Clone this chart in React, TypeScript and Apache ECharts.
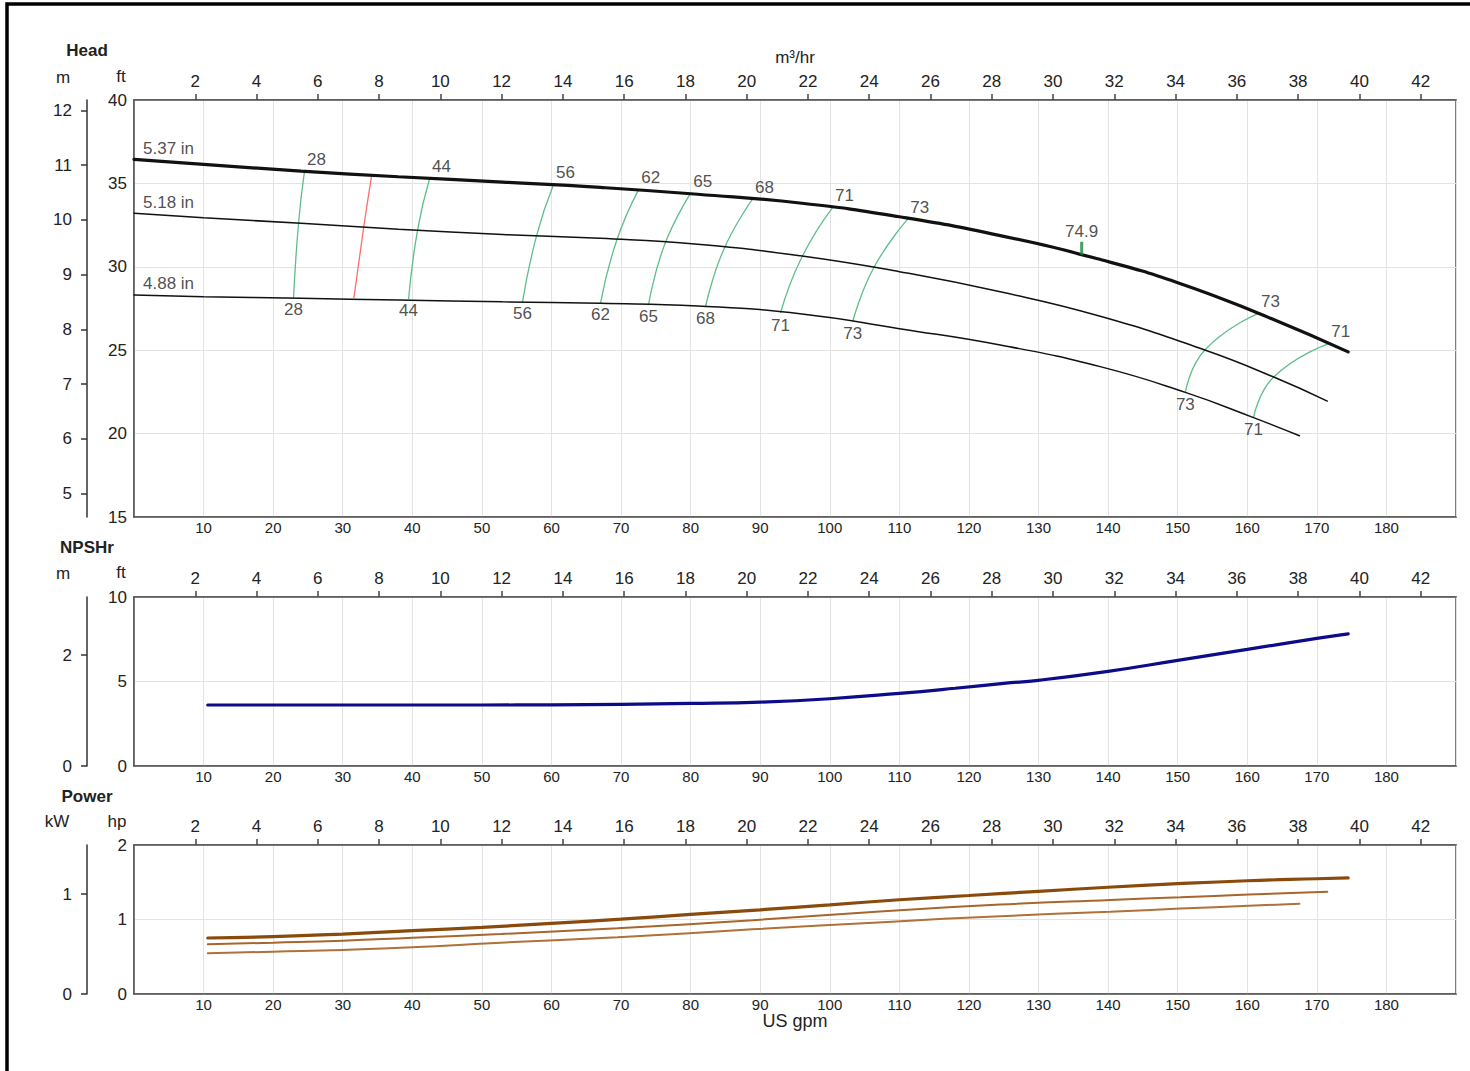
import React, { useEffect, useRef } from "react";
import * as echarts from "echarts";

const FONT = "'Liberation Sans', Arial, Helvetica, sans-serif";
const GPM_TO_M3H = 0.2271247;
const M_TO_FT = 3.28084;
const KW_TO_HP = 1.34102;

// ---- axes / ticks ----
const gpmRange = [0, 190];
const gpmTicks = [10, 20, 30, 40, 50, 60, 70, 80, 90, 100, 110, 120, 130, 140, 150, 160, 170, 180];
const m3hTicks = [2, 4, 6, 8, 10, 12, 14, 16, 18, 20, 22, 24, 26, 28, 30, 32, 34, 36, 38, 40, 42];
const headFtRange = [15, 40];
const headMTicks = [5, 6, 7, 8, 9, 10, 11, 12];
const npshFtRange = [0, 10];
const npshMTicks = [0, 2];
const powerHpRange = [0, 2];
const powerKwTicks = [0, 1];

// ---- head curves (US gpm, ft) ----
const trimNames = ["5.37 in", "5.18 in", "4.88 in"];
const head537 = [[0, 36.44], [10, 36.14], [24, 35.74], [38, 35.4], [53, 35.08], [67, 34.76], [81, 34.35], [96, 33.81], [110, 33.0], [124.5, 31.87], [139, 30.42], [150, 29.05], [161.6, 27.21], [174.5, 24.9]];
const head518 = [[0, 33.21], [10, 32.94], [24, 32.61], [38, 32.25], [53, 31.94], [67, 31.71], [81, 31.35], [96, 30.65], [110, 29.71], [124.5, 28.5], [139, 27.02], [153.9, 25.01], [163.8, 23.39], [171.5, 21.95]];
const head488 = [[0, 28.31], [10, 28.21], [24, 28.11], [38, 28.01], [53, 27.9], [67, 27.81], [81, 27.65], [96, 27.17], [110, 26.29], [124.5, 25.31], [139, 24.0], [151.1, 22.47], [160.9, 20.96], [167.5, 19.87]];

// ---- iso-efficiency lines (top, middle, bottom) ----
const isoLabels = ["28", "", "44", "56", "62", "65", "68", "71", "73", "73", "71"];
const isoKinds = ["eff", "min", "eff", "eff", "eff", "eff", "eff", "eff", "eff", "eff", "eff"];
const isoPoints = [
  [[24.5, 35.72], [23.65, 32.63], [22.93, 28.13]],
  [[34.14, 35.44], [33.0, 32.33], [31.6, 28.13]],
  [[42.48, 35.28], [40.76, 32.21], [39.46, 28.07]],
  [[60.3, 34.93], [57.85, 31.85], [55.84, 27.89]],
  [[72.53, 34.63], [69.35, 31.55], [67.05, 27.83]],
  [[80.0, 34.4], [76.24, 31.31], [73.95, 27.71]],
  [[88.9, 34.06], [84.73, 31.01], [82.14, 27.59]],
  [[100.4, 33.55], [95.93, 30.53], [92.92, 27.23]],
  [[111.2, 32.86], [106.3, 29.93], [103.3, 26.72]],
  [[161.6, 27.21], [153.9, 25.01], [151.1, 22.47]],
  [[171.7, 25.4], [163.8, 23.39], [160.9, 20.96]],
];

// ---- best efficiency point ----
const bepFlow = 136.2;
const bepHead = 30.72;
const bepEff = 74.9;

// ---- NPSHr (US gpm, ft) ----
const npshCurve = [[10.6, 3.61], [20, 3.61], [30, 3.61], [40, 3.61], [50, 3.61], [60, 3.62], [70, 3.65], [80, 3.7], [90, 3.78], [100, 3.98], [110, 4.3], [118, 4.6], [125, 4.89], [130, 5.07], [140, 5.6], [150, 6.25], [160, 6.9], [170, 7.55], [174.5, 7.82]];

// ---- Power (US gpm, hp) ----
const power537 = [[10.6, 0.752], [20, 0.77], [30, 0.805], [40, 0.85], [50, 0.895], [60, 0.948], [70, 1.005], [80, 1.068], [90, 1.13], [100, 1.197], [110, 1.265], [120, 1.322], [130, 1.378], [140, 1.433], [150, 1.481], [160, 1.52], [170, 1.547], [174.5, 1.558]];
const power518 = [[10.6, 0.667], [20, 0.689], [30, 0.716], [40, 0.756], [52.7, 0.805], [69.5, 0.882], [88.9, 0.99], [108.3, 1.115], [124.5, 1.2], [140.3, 1.262], [150.4, 1.298], [160.2, 1.335], [171.5, 1.373]];
const power488 = [[10.6, 0.546], [20, 0.568], [30, 0.591], [40, 0.626], [52.7, 0.689], [69.5, 0.761], [88.9, 0.868], [108.3, 0.968], [124.5, 1.045], [140.3, 1.105], [150.4, 1.146], [160.2, 1.184], [167.5, 1.212]];

const TXT = "#222";
const smallLabel = { color: TXT, fontSize: 15, fontFamily: FONT };
const bigLabel = { color: TXT, fontSize: 17, fontFamily: FONT };

function xAxesFor(g: number) {
  return [
    {
      type: "value", gridIndex: g, position: "bottom", min: gpmRange[0], max: gpmRange[1], interval: 10,
      axisLine: { show: true, onZero: false, lineStyle: { color: "#555", width: 1.5 } },
      axisTick: { show: false },
      axisLabel: { ...smallLabel, margin: 3, customValues: gpmTicks },
      splitLine: { show: true, lineStyle: { color: "#e3e3e3", width: 1 } },
    },
    {
      type: "value", gridIndex: g, position: "top", min: gpmRange[0] * GPM_TO_M3H, max: gpmRange[1] * GPM_TO_M3H,
      axisLine: { show: true, onZero: false, lineStyle: { color: "#555", width: 1.5 } },
      axisTick: { show: true, length: 6, lineStyle: { color: "#444", width: 1.5 }, customValues: m3hTicks },
      axisLabel: { ...bigLabel, margin: 10, customValues: m3hTicks },
      splitLine: { show: false },
    },
  ];
}

function imperialAxis(g: number, range: number[], interval: number) {
  return {
    type: "value", gridIndex: g, position: "left", min: range[0], max: range[1], interval,
    axisLine: { show: true, onZero: false, lineStyle: { color: "#555", width: 1.5 } },
    axisTick: { show: false },
    axisLabel: { ...bigLabel, margin: 7, showMinLabel: true, showMaxLabel: true },
    splitLine: { show: true, lineStyle: { color: "#e3e3e3", width: 1 } },
  };
}

function metricAxis(g: number, min: number, max: number, ticks: number[]) {
  return {
    type: "value", gridIndex: g, position: "left", offset: 47, min, max,
    axisLine: { show: true, onZero: false, lineStyle: { color: "#333", width: 1.5 } },
    axisTick: { show: true, length: 6, lineStyle: { color: "#333", width: 1.5 }, customValues: ticks },
    axisLabel: { ...bigLabel, margin: 15, customValues: ticks },
    splitLine: { show: false },
  };
}

function lineSeries(xi: number, yi: number, data: number[][], color: string, width: number, z = 3) {
  return {
    type: "line", xAxisIndex: xi, yAxisIndex: yi, data, smooth: 0.5,
    symbol: "none", showSymbol: false, silent: true, z,
    lineStyle: { color, width, cap: "round" },
  };
}

function textG(text: string, x: number, y: number, size = 17, bold = false) {
  return {
    type: "text", x, y, silent: true,
    style: { text, fill: TXT, fontSize: size, fontFamily: FONT, fontWeight: bold ? "bold" : "normal", align: "center", verticalAlign: "middle" },
  };
}

export default function App() {
  const ref = useRef<HTMLDivElement>(null);
  useEffect(() => {
    if (!ref.current) return;
    const chart = echarts.init(ref.current, undefined, { renderer: "svg" });

    const isoSeries = isoPoints.map((pts, i) => ({
      type: "line", xAxisIndex: 0, yAxisIndex: 0, data: pts, smooth: true,
      symbol: "none", showSymbol: false, silent: true, z: 2,
      lineStyle: { color: isoKinds[i] === "min" ? "#ff6b6b" : "#5fbd8d", width: 1.3 },
    }));

    const labelScatter = (data: any[], offset: number[], align = "center") => ({
      type: "scatter", xAxisIndex: 0, yAxisIndex: 0, data, symbol: "circle", symbolSize: 1,
      itemStyle: { color: "rgba(0,0,0,0)" }, silent: true, clip: false, z: 6,
      emphasis: { disabled: true },
      label: { show: true, position: "inside", align, verticalAlign: "middle", offset, formatter: (p: any) => p.value[2], ...bigLabel },
    });

    const effIdx = isoLabels.map((l, i) => i).filter((i) => isoLabels[i] !== "");
    const topLabels = effIdx.map((i) => [isoPoints[i][0][0], isoPoints[i][0][1], isoLabels[i]]);
    const bottomLabels = effIdx.map((i) => [isoPoints[i][2][0], isoPoints[i][2][1], isoLabels[i]]);
    const trimLabelData = [head537, head518, head488].map((c, i) => [c[0][0], c[0][1], trimNames[i]]);

    const option: any = {
      animation: false,
      backgroundColor: "#fff",
      textStyle: { fontFamily: FONT },
      grid: [
        { left: 134, top: 100, width: 1322, height: 417, show: true, borderColor: "#555", borderWidth: 1.5 },
        { left: 134, top: 597, width: 1322, height: 169, show: true, borderColor: "#555", borderWidth: 1.5 },
        { left: 134, top: 845, width: 1322, height: 149, show: true, borderColor: "#555", borderWidth: 1.5 },
      ],
      xAxis: [...xAxesFor(0), ...xAxesFor(1), ...xAxesFor(2)],
      yAxis: [
        imperialAxis(0, headFtRange, 5),
        metricAxis(0, headFtRange[0] / M_TO_FT, headFtRange[1] / M_TO_FT, headMTicks),
        imperialAxis(1, npshFtRange, 5),
        metricAxis(1, npshFtRange[0] / M_TO_FT, npshFtRange[1] / M_TO_FT, npshMTicks),
        imperialAxis(2, powerHpRange, 1),
        metricAxis(2, powerHpRange[0] / KW_TO_HP, powerHpRange[1] / KW_TO_HP, powerKwTicks),
      ],
      series: [
        ...isoSeries,
        lineSeries(0, 0, head537, "#111", 3.2, 4),
        lineSeries(0, 0, head518, "#111", 1.5, 4),
        lineSeries(0, 0, head488, "#111", 1.5, 4),
        labelScatter(topLabels, [12, -12]),
        labelScatter(bottomLabels, [0, 12]),
        labelScatter(trimLabelData, [9, -11], "left"),
        {
          type: "scatter", xAxisIndex: 0, yAxisIndex: 0, data: [[bepFlow, bepHead, bepEff]],
          symbol: "rect", symbolSize: [3, 13], symbolOffset: [0, -6.5], silent: true, z: 7,
          itemStyle: { color: "#14893c" }, emphasis: { disabled: true },
          label: { show: true, position: "top", distance: 2, formatter: (p: any) => String(p.value[2]), ...bigLabel },
        },
        lineSeries(2, 2, npshCurve, "#0c0c8a", 3.2),
        lineSeries(4, 4, power488, "#b0703a", 2),
        lineSeries(4, 4, power518, "#a8652c", 2),
        lineSeries(4, 4, power537, "#8a4a0c", 3.2),
      ],
      graphic: [
        { type: "rect", silent: true, shape: { x: 7, y: 4, width: 1500, height: 1100 }, style: { fill: "none", stroke: "#000", lineWidth: 3.5 } },
        textG("Head", 87, 50, 17, true),
        textG("m", 63, 77),
        textG("ft", 121, 76),
        textG("m³/hr", 795, 57, 17),
        textG("NPSHr", 87, 547, 17, true),
        textG("m", 63, 573),
        textG("ft", 121, 572),
        textG("Power", 87, 796, 17, true),
        textG("kW", 57, 821),
        textG("hp", 117, 821),
        textG("US gpm", 795, 1021, 18),
      ],
    };
    chart.setOption(option);
    return () => chart.dispose();
  }, []);
  return <div ref={ref} style={{ position: "absolute", left: 0, top: 0, width: 1470, height: 1071, background: "#fff" }} />;
}
